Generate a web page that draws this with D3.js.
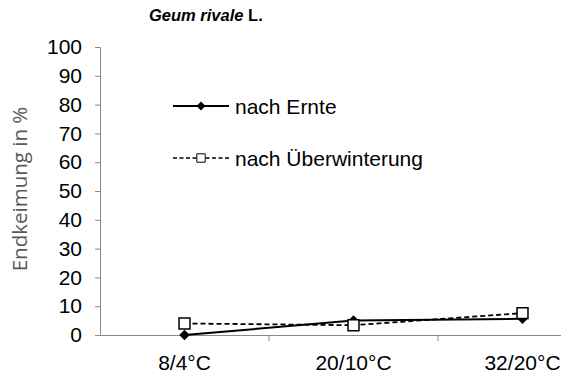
<!DOCTYPE html>
<html>
<head>
<meta charset="utf-8">
<script src="https://cdn.jsdelivr.net/npm/d3@7"></script>
<style>
  body { margin: 0; background: #fff; }
  svg { font-family: "Liberation Sans", Arial, sans-serif; }
</style>
</head>
<body>
<div id="chart"></div>
<script>
// data
var categories = ["8/4°C", "20/10°C", "32/20°C"];
var nachErnte = [0, 5, 5.6];
var nachUeberwinterung = [4, 3.4, 7.6];
var yTicks = [0, 10, 20, 30, 40, 50, 60, 70, 80, 90, 100];
var seriesNames = ["nach Ernte", "nach Überwinterung"];

var width = 561, height = 375;

var svg = d3.select("#chart").append("svg")
    .attr("width", width)
    .attr("height", height);

var x = d3.scaleBand()
    .domain(categories)
    .range([100, 607]);

var y = d3.scaleLinear()
    .domain([0, 100])
    .range([335, 47]);

var axisColor = "#898989";

// y axis
var yAxis = svg.append("g")
    .attr("transform", "translate(100,0)")
    .call(d3.axisLeft(y).tickValues(yTicks).tickSize(5).tickPadding(13));
yAxis.select(".domain").attr("stroke", axisColor);
yAxis.selectAll(".tick line").attr("stroke", axisColor);
yAxis.selectAll(".tick text")
    .attr("font-size", "21px")
    .attr("fill", "#000");

// x axis
var xAxis = svg.append("g")
    .attr("transform", "translate(0,335)")
    .call(d3.axisBottom(x).tickSize(0).tickPadding(20));
xAxis.select(".domain").attr("stroke", axisColor);
xAxis.selectAll(".tick text")
    .attr("font-size", "21px")
    .attr("fill", "#000");
// category separators
xAxis.selectAll(".sep")
    .data(categories.slice(1))
    .enter().append("line")
    .attr("x1", function(d){ return x(d); })
    .attr("x2", function(d){ return x(d); })
    .attr("y1", 0).attr("y2", 6)
    .attr("stroke", axisColor);

// title
var title = svg.append("text")
    .attr("x", 149).attr("y", 21)
    .attr("font-size", "16.5px")
    .attr("font-weight", "bold");
title.append("tspan").attr("font-style", "italic").text("Geum rivale");
title.append("tspan").text(" L.");

// y label
svg.append("text")
    .attr("transform", "translate(27,189) rotate(-90)")
    .attr("text-anchor", "middle")
    .attr("font-family", "'Open Sans', sans-serif")
    .attr("font-size", "20.5px")
    .attr("fill", "#595959")
    .text("Endkeimung in %");

var cx = function(i){ return x(categories[i]) + x.bandwidth() / 2; };

var line = d3.line()
    .x(function(d, i){ return cx(i); })
    .y(function(d){ return y(d); });

var diamond = d3.symbol().type(d3.symbolDiamond2).size(70);
var square = d3.symbol().type(d3.symbolSquare).size(120);

// series 2 (dashed, open squares)
svg.append("path")
    .datum(nachUeberwinterung)
    .attr("d", line)
    .attr("fill", "none")
    .attr("stroke", "#000")
    .attr("stroke-width", 1.8)
    .attr("stroke-dasharray", "5,3");

// series 1 (solid, diamonds)
svg.append("path")
    .datum(nachErnte)
    .attr("d", line)
    .attr("fill", "none")
    .attr("stroke", "#000")
    .attr("stroke-width", 2);

svg.selectAll(".m1")
    .data(nachErnte)
    .enter().append("path")
    .attr("d", diamond)
    .attr("transform", function(d, i){ return "translate(" + cx(i) + "," + y(d) + ")"; })
    .attr("fill", "#000");

svg.selectAll(".m2")
    .data(nachUeberwinterung)
    .enter().append("path")
    .attr("d", square)
    .attr("transform", function(d, i){ return "translate(" + cx(i) + "," + y(d) + ")"; })
    .attr("fill", "#fff")
    .attr("stroke", "#000")
    .attr("stroke-width", 1.5);

// legend
var legend = svg.append("g");
var rows = [
    {name: seriesNames[0], y: 106, dash: null, sym: d3.symbol().type(d3.symbolDiamond2).size(50), fill: "#000", w: 2},
    {name: seriesNames[1], y: 158, dash: "4,2.5", sym: d3.symbol().type(d3.symbolSquare).size(70), fill: "#fff", w: 1.3}
];
rows.forEach(function(r){
    legend.append("line")
        .attr("x1", 173).attr("x2", 229)
        .attr("y1", r.y).attr("y2", r.y)
        .attr("stroke", "#000")
        .attr("stroke-width", r.w)
        .attr("stroke-dasharray", r.dash);
    legend.append("path")
        .attr("d", r.sym)
        .attr("transform", "translate(201," + r.y + ")")
        .attr("fill", r.fill)
        .attr("stroke", r.fill === "#fff" ? "#000" : "none")
        .attr("stroke-width", 1);
    legend.append("text")
        .attr("x", 235).attr("y", r.y + 8)
        .attr("font-size", "21px")
        .text(r.name);
});
</script>
</body>
</html>
